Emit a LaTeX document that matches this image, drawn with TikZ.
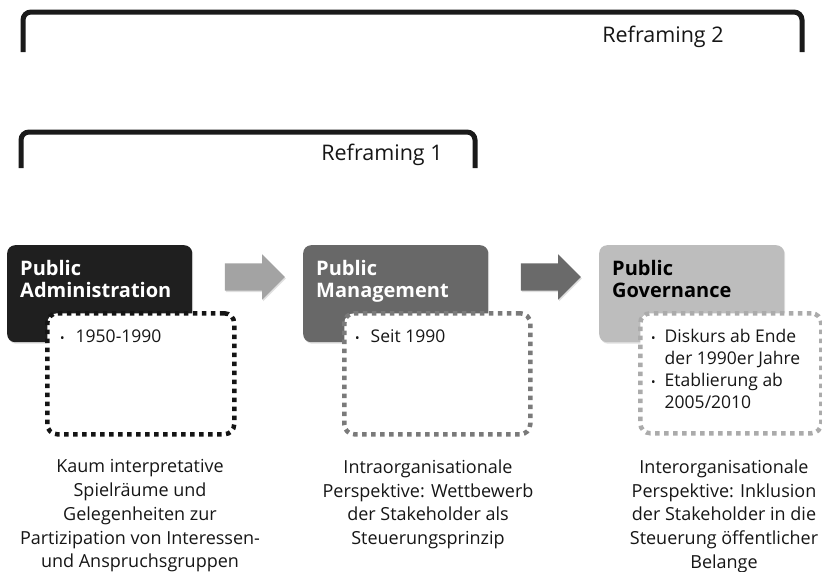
\documentclass[tikz,border=0pt]{standalone}
\usepackage{fontspec}
\setmainfont{Open Sans}
\usetikzlibrary{shapes.arrows,shadows}
\definecolor{boxA}{HTML}{1F1F1F}
\definecolor{boxB}{HTML}{686868}
\definecolor{boxC}{HTML}{BDBDBD}
\definecolor{arrA}{HTML}{A3A3A3}
\definecolor{arrB}{HTML}{6A6A6A}
\definecolor{dotA}{HTML}{141414}
\definecolor{dotB}{HTML}{7A7A7A}
\definecolor{dotC}{HTML}{ABABAB}
\definecolor{brk}{HTML}{1A1A1A}
\definecolor{txt}{HTML}{161616}
\newcommand{\bul}{{\fontsize{12}{12}\selectfont\textbullet}}
\tikzset{
  bracketline/.style={draw=brk, line width=5pt, rounded corners=8pt},
  brlabel/.style={font=\fontsize{21.5}{24}\selectfont, text=txt, inner sep=0pt, anchor=base},
  headbox/.style={rounded corners=8pt, minimum width=185pt, minimum height=97pt, anchor=north west, inner sep=0pt,
    drop shadow={opacity=0.25, shadow xshift=1pt, shadow yshift=-1.5pt}},
  headtext/.style={font=\fontsize{20}{22.5}\selectfont\bfseries, align=left, inner sep=0pt, anchor=north west},
  dotbox/.style={line width=4.5pt, dash pattern=on 4.5pt off 4.5pt, rounded corners=10pt, fill=white,
    anchor=north west, inner sep=0pt},
  bultext/.style={font=\fontsize{17.5}{22}\selectfont, text=txt, inner sep=0pt, anchor=north west},
  flowarrow/.style={single arrow, minimum height=60pt, inner xsep=0pt, inner ysep=13.5pt,
    single arrow head extend=9pt, single arrow head indent=0pt, draw=none,
    drop shadow={opacity=0.25, shadow xshift=1pt, shadow yshift=-1.5pt}},
  desc/.style={font=\fontsize{18}{23.7}\selectfont, text=txt, align=center, inner sep=0pt, anchor=north}
}
\begin{document}
\begin{tikzpicture}[x=1pt,y=-1pt]
\useasboundingbox[fill=white] (0,0) rectangle (822,571);

% brackets
\coordinate (b2l) at (23,52);
\coordinate (b2r) at (802,52);
\coordinate (b1l) at (21,168);
\coordinate (b1r) at (475,168);
\draw[bracketline] (b2l) |- (802,12) -- (b2r);
\draw[bracketline] (b1l) |- (475,132) -- (b1r);
\node[brlabel] (r2) at (663,42) {Reframing 2};
\node[brlabel] (r1) at (382,160) {Reframing 1};

% head boxes
\node[headbox, fill=boxA] (pa) at (7,245) {};
\node[headbox, fill=boxB] (pm) at (303,245) {};
\node[headbox, fill=boxC] (pg) at (599,245) {};

\node[headtext, text=white] (pat) at (20,260) {Public\\Administration};
\node[headtext, text=white] (pmt) at (316,260) {Public\\Management};
\node[headtext, text=black] (pgt) at (612,260) {Public\\Governance};

% dotted boxes
\node[dotbox, draw=dotA, minimum width=187pt, minimum height=121pt] (pad) at (45,311) {};
\node[dotbox, draw=dotB, minimum width=186pt, minimum height=121pt] (pmd) at (342,311) {};
\node[dotbox, draw=dotC, minimum width=181pt, minimum height=120pt] (pgd) at (638,311) {};

\node[bultext] (pab) at (60,327) {\begin{tabular}{@{}l@{\hspace{11pt}}l@{}}\bul & 1950-1990\end{tabular}};
\node[bultext] (pmb) at (355,327) {\begin{tabular}{@{}l@{\hspace{11pt}}l@{}}\bul & Seit 1990\end{tabular}};
\node[bultext] (pgb) at (651,327) {\begin{tabular}{@{}l@{\hspace{9pt}}l@{}}\bul & Diskurs ab Ende\\ & der 1990er Jahre\\ \bul & Etablierung ab\\ & 2005/2010\end{tabular}};

% arrows
\node[flowarrow, fill=arrA] (a1) at (248,277) {};
\node[flowarrow, fill=arrB] (a2) at (544,277) {};

% descriptions
\node[desc] (d1) at (140,459.5) {Kaum interpretative\\Spielräume und\\Gelegenheiten zur\\Partizipation von Interessen-\\und Anspruchsgruppen};
\node[desc] (d2) at (428,459.5) {Intraorganisationale\\Perspektive: Wettbewerb\\der Stakeholder als\\Steuerungsprinzip};
\node[desc] (d3) at (724,459.5) {Interorganisationale\\Perspektive: Inklusion\\der Stakeholder in die\\Steuerung öffentlicher\\Belange};
\end{tikzpicture}
\end{document}
